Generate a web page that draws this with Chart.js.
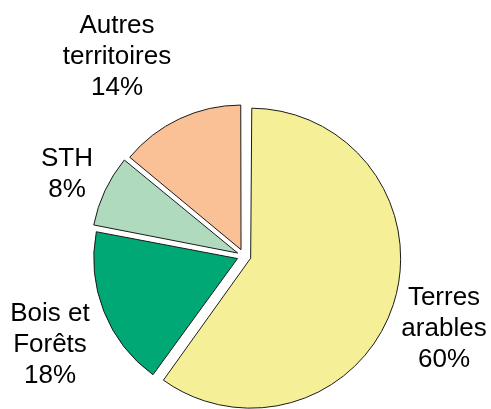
<!DOCTYPE html>
<html>
<head>
<meta charset="utf-8">
<script src="https://cdn.jsdelivr.net/npm/chart.js@4"></script>
<style>
  html, body { margin: 0; padding: 0; background: #fff; overflow: hidden; }
  #wrap { width: 491px; height: 409px; position: relative; }
</style>
</head>
<body>
<div id="wrap"><canvas id="pie-chart"></canvas></div>
<script>
// Data
const categories = [['Terres', 'arables'], ['Bois et', 'Forêts'], ['STH'], ['Autres', 'territoires']];
const shares = [60, 18, 8, 14];
const sliceColors = ['#f5f098', '#00a876', '#b0dabe', '#fbc196'];

// where each label block sits (centre of the text block)
const labelPos = [[444, 329], [50, 345], [67, 174], [117, 57]];

// Labels drawn outside the slices, like the original
const outsideLabels = {
    id: 'outsideLabels',
    afterDatasetsDraw(chart) {
        const ctx = chart.ctx;
        const lineH = 31;
        ctx.save();
        ctx.font = '26px "Liberation Sans", Arial, sans-serif';
        ctx.fillStyle = '#000';
        ctx.textAlign = 'center';
        ctx.textBaseline = 'middle';
        chart.data.labels.forEach((lab, i) => {
            const lines = lab.concat([shares[i] + '%']);
            const [x, y] = labelPos[i];
            const top = y - (lines.length - 1) * lineH / 2;
            lines.forEach((t, k) => ctx.fillText(t, x, top + k * lineH));
        });
        ctx.restore();
    }
};

new Chart(document.getElementById('pie-chart'), {
    type: 'pie',
    data: {
        labels: categories,
        datasets: [{
            data: shares,
            backgroundColor: sliceColors,
            borderColor: '#1a1a1a',
            borderWidth: 1,
            hoverBorderWidth: 1,
            // arc element moves by offset/4 (and grows by the same)
            offset: 28,
            hoverOffset: 28
        }]
    },
    options: {
        responsive: true,
        maintainAspectRatio: false,
        animation: false,
        events: [],
        radius: 143,
        layout: { padding: { top: 103, bottom: 0, left: 0, right: 3 } },
        plugins: {
            legend: { display: false },
            tooltip: { enabled: false }
        }
    },
    plugins: [outsideLabels]
});
</script>
</body>
</html>
